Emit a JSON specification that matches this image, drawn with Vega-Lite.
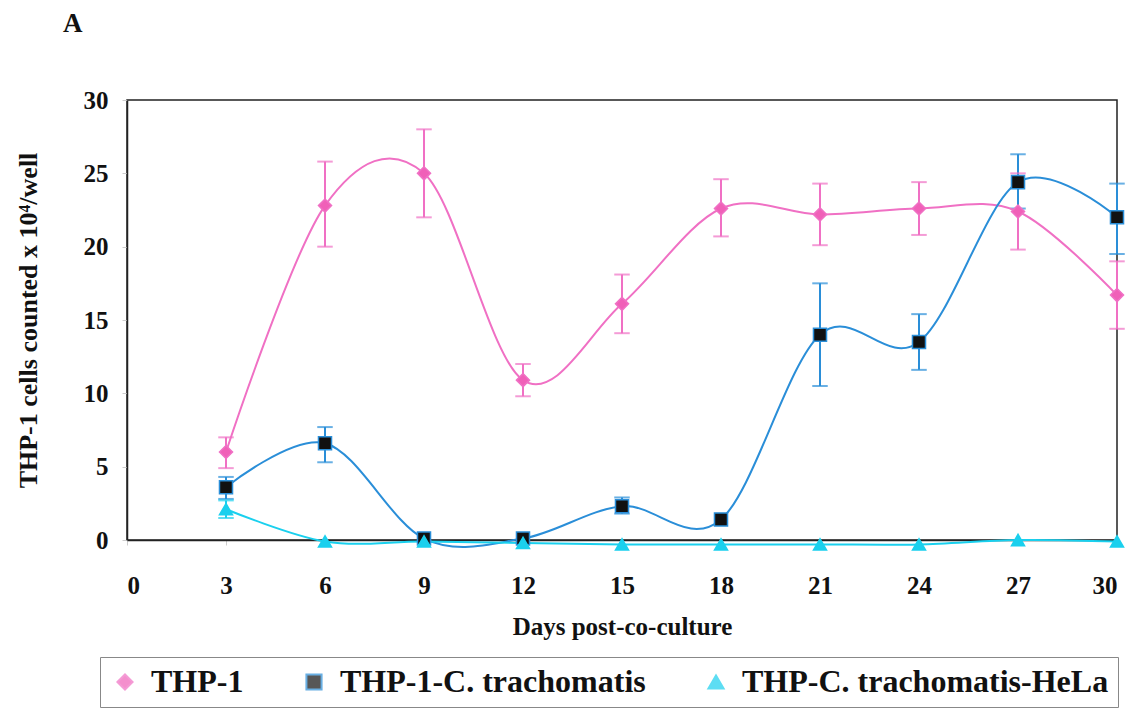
{
  "$schema": "https://vega.github.io/schema/vega-lite/v6.json",
  "autosize": "none",
  "width": 990,
  "height": 440,
  "padding": {"left": 127, "top": 100, "right": 22, "bottom": 174},
  "background": "white",
  "title": {"text": "A", "anchor": "start", "frame": "group", "dx": -64, "offset": 50, "font": "Liberation Serif", "fontSize": 27, "fontWeight": "bold", "color": "#111"},
  "config": {
    "view": {"stroke": "#222", "strokeWidth": 1.5},
    "axis": {"labelFont": "Liberation Serif", "labelFontSize": 25, "labelFontWeight": "bold", "labelColor": "#111", "titleFont": "Liberation Serif", "titleFontWeight": "bold", "titleColor": "#111", "grid": false, "domainColor": "#222", "domainWidth": 1.5, "tickColor": "#ccc", "tickSize": 5},
    "legend": {"labelFont": "Liberation Serif", "labelFontSize": 32, "labelFontWeight": "bold", "labelColor": "#111", "labelLimit": 0}
  },
  "datasets": {
    "pts": [
      {"series": "THP-1", "day": 3, "value": 6.0},
      {"series": "THP-1", "day": 6, "value": 22.8},
      {"series": "THP-1", "day": 9, "value": 25.0},
      {"series": "THP-1", "day": 12, "value": 10.9},
      {"series": "THP-1", "day": 15, "value": 16.1},
      {"series": "THP-1", "day": 18, "value": 22.6},
      {"series": "THP-1", "day": 21, "value": 22.2},
      {"series": "THP-1", "day": 24, "value": 22.6},
      {"series": "THP-1", "day": 27, "value": 22.4},
      {"series": "THP-1", "day": 30, "value": 16.7},
      {"series": "THP-1-C. trachomatis", "day": 3, "value": 3.6},
      {"series": "THP-1-C. trachomatis", "day": 6, "value": 6.6},
      {"series": "THP-1-C. trachomatis", "day": 9, "value": 0.1},
      {"series": "THP-1-C. trachomatis", "day": 12, "value": 0.1},
      {"series": "THP-1-C. trachomatis", "day": 15, "value": 2.3},
      {"series": "THP-1-C. trachomatis", "day": 18, "value": 1.4},
      {"series": "THP-1-C. trachomatis", "day": 21, "value": 14.0},
      {"series": "THP-1-C. trachomatis", "day": 24, "value": 13.5},
      {"series": "THP-1-C. trachomatis", "day": 27, "value": 24.4},
      {"series": "THP-1-C. trachomatis", "day": 30, "value": 22.0},
      {"series": "THP-C. trachomatis-HeLa", "day": 3, "value": 2.1},
      {"series": "THP-C. trachomatis-HeLa", "day": 6, "value": -0.1},
      {"series": "THP-C. trachomatis-HeLa", "day": 9, "value": -0.1},
      {"series": "THP-C. trachomatis-HeLa", "day": 12, "value": -0.2},
      {"series": "THP-C. trachomatis-HeLa", "day": 15, "value": -0.3},
      {"series": "THP-C. trachomatis-HeLa", "day": 18, "value": -0.3},
      {"series": "THP-C. trachomatis-HeLa", "day": 21, "value": -0.3},
      {"series": "THP-C. trachomatis-HeLa", "day": 24, "value": -0.3},
      {"series": "THP-C. trachomatis-HeLa", "day": 27, "value": 0.0},
      {"series": "THP-C. trachomatis-HeLa", "day": 30, "value": -0.1}
    ],
    "errs": [
      {"series": "THP-1", "day": 3, "lo": 4.9, "hi": 7.0},
      {"series": "THP-1", "day": 6, "lo": 20.0, "hi": 25.8},
      {"series": "THP-1", "day": 9, "lo": 22.0, "hi": 28.0},
      {"series": "THP-1", "day": 12, "lo": 9.8, "hi": 12.0},
      {"series": "THP-1", "day": 15, "lo": 14.1, "hi": 18.1},
      {"series": "THP-1", "day": 18, "lo": 20.7, "hi": 24.6},
      {"series": "THP-1", "day": 21, "lo": 20.1, "hi": 24.3},
      {"series": "THP-1", "day": 24, "lo": 20.8, "hi": 24.4},
      {"series": "THP-1", "day": 27, "lo": 19.8, "hi": 25.0},
      {"series": "THP-1", "day": 30, "lo": 14.4, "hi": 19.0},
      {"series": "THP-1-C. trachomatis", "day": 3, "lo": 2.8, "hi": 4.3},
      {"series": "THP-1-C. trachomatis", "day": 6, "lo": 5.3, "hi": 7.7},
      {"series": "THP-1-C. trachomatis", "day": 15, "lo": 1.8, "hi": 2.9},
      {"series": "THP-1-C. trachomatis", "day": 21, "lo": 10.5, "hi": 17.5},
      {"series": "THP-1-C. trachomatis", "day": 24, "lo": 11.6, "hi": 15.4},
      {"series": "THP-1-C. trachomatis", "day": 27, "lo": 22.6, "hi": 26.3},
      {"series": "THP-1-C. trachomatis", "day": 30, "lo": 19.5, "hi": 24.3},
      {"series": "THP-C. trachomatis-HeLa", "day": 3, "lo": 1.5, "hi": 2.7}
    ]
  },
  "encoding": {
    "x": {"field": "day", "type": "quantitative", "scale": {"domain": [0, 30], "nice": false}, "axis": {"values": [0, 3, 6, 9, 12, 15, 18, 21, 24, 27, 30], "labelPadding": 28, "title": "Days post-co-culture", "titleFontSize": 25, "titlePadding": 16}}
  },
  "layer": [
    {
      "data": {"name": "errs"},
      "mark": {"type": "rule", "strokeWidth": 2},
      "encoding": {
        "y": {"field": "lo", "type": "quantitative"},
        "y2": {"field": "hi"},
        "stroke": {"field": "series", "type": "nominal"}
      }
    },
    {
      "data": {"name": "errs"},
      "mark": {"type": "tick", "orient": "horizontal", "size": 14, "thickness": 0.5, "filled": false, "strokeWidth": 1.5},
      "encoding": {
        "y": {"field": "lo", "type": "quantitative"},
        "stroke": {"field": "series", "type": "nominal"}
      }
    },
    {
      "data": {"name": "errs"},
      "mark": {"type": "tick", "orient": "horizontal", "size": 14, "thickness": 0.5, "filled": false, "strokeWidth": 1.5},
      "encoding": {
        "y": {"field": "hi", "type": "quantitative"},
        "stroke": {"field": "series", "type": "nominal"}
      }
    },
    {
      "data": {"name": "pts"},
      "mark": {"type": "line", "interpolate": "cardinal", "strokeWidth": 2},
      "encoding": {
        "y": {"field": "value", "type": "quantitative", "scale": {"domain": [0, 30], "nice": false}, "axis": {"values": [0, 5, 10, 15, 20, 25, 30], "labelPadding": 14, "title": "THP-1 cells counted x 10⁴/well", "titleFontSize": 26, "titlePadding": 42}},
        "stroke": {"field": "series", "type": "nominal", "scale": {"domain": ["THP-1", "THP-1-C. trachomatis", "THP-C. trachomatis-HeLa"], "range": ["#f070c4", "#2a8ed8", "#1ad0ee"]}}
      }
    },
    {
      "data": {"name": "pts"},
      "mark": {"type": "point", "filled": true, "size": 170, "strokeWidth": 1.5, "opacity": 1},
      "encoding": {
        "y": {"field": "value", "type": "quantitative"},
        "fill": {"field": "series", "type": "nominal", "scale": {"domain": ["THP-1", "THP-1-C. trachomatis", "THP-C. trachomatis-HeLa"], "range": ["#f060b8", "#111111", "#1ad0ee"]},
          "legend": {"title": null, "orient": "none", "legendX": -27, "legendY": 557, "direction": "horizontal", "strokeColor": "#888", "padding": 9, "symbolSize": 230, "columnPadding": 54, "labelOffset": 10, "symbolStrokeWidth": 2}},
        "shape": {"field": "series", "type": "nominal", "scale": {"domain": ["THP-1", "THP-1-C. trachomatis", "THP-C. trachomatis-HeLa"], "range": ["diamond", "square", "triangle-up"]}},
        "stroke": {"field": "series", "type": "nominal"}
      }
    }
  ]
}
